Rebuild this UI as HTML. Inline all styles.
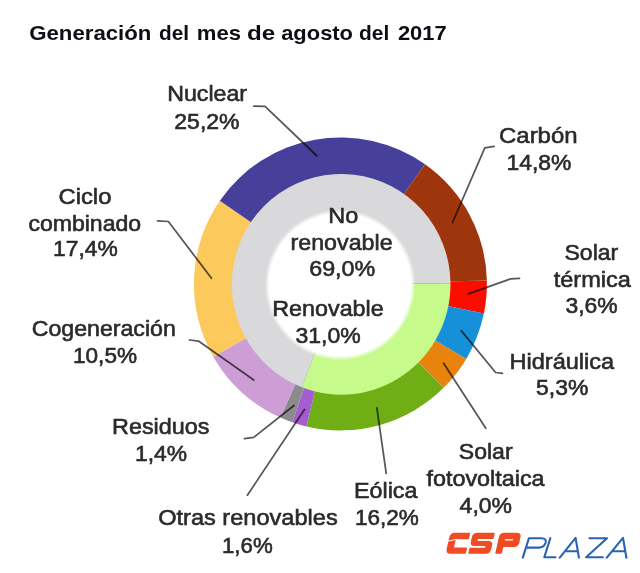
<!DOCTYPE html>
<html><head><meta charset="utf-8"><title>Generación del mes de agosto del 2017</title>
<style>
html,body{margin:0;padding:0;background:#fff;}
body{width:640px;height:573px;overflow:hidden;font-family:"Liberation Sans",sans-serif;}
svg{display:block}
text{font-family:"Liberation Sans",sans-serif;fill:#2a2a2a;stroke:#2a2a2a;stroke-width:0.6px;}
</style></head><body>
<svg width="640" height="573" viewBox="0 0 640 573">
<defs>
<radialGradient id="hole"><stop offset="0" stop-color="#fff"/><stop offset="0.94" stop-color="#fff"/><stop offset="1" stop-color="#fff" stop-opacity="0"/></radialGradient>
<filter id="b1" x="-5%" y="-5%" width="110%" height="110%"><feGaussianBlur stdDeviation="0.7"/></filter>
<filter id="b2" x="-5%" y="-5%" width="110%" height="110%"><feGaussianBlur stdDeviation="0.65"/></filter>
<filter id="b3" x="-5%" y="-5%" width="110%" height="110%"><feGaussianBlur stdDeviation="0.7"/></filter>
</defs>
<rect width="640" height="573" fill="#fff"/>
<g id="donut" filter="url(#b1)">
<path d="M340.4,283.9 L486.86,280.58 A146.5,146.5 0 0 1 483.86,313.61 Z" fill="#fb0a02"/>
<path d="M340.4,283.9 L483.86,313.61 A146.5,146.5 0 0 1 466.24,358.91 Z" fill="#1390d8"/>
<path d="M340.4,283.9 L466.24,358.91 A146.5,146.5 0 0 1 443.63,387.85 Z" fill="#e8830f"/>
<path d="M340.4,283.9 L443.63,387.85 A146.5,146.5 0 0 1 306.45,426.41 Z" fill="#6fae14"/>
<path d="M340.4,283.9 L306.45,426.41 A146.5,146.5 0 0 1 292.22,422.25 Z" fill="#a45dd0"/>
<path d="M340.4,283.9 L292.22,422.25 A146.5,146.5 0 0 1 280.35,417.53 Z" fill="#8b8b8b"/>
<path d="M340.4,283.9 L280.35,417.53 A146.5,146.5 0 0 1 213.27,356.71 Z" fill="#cd9ed5"/>
<path d="M340.4,283.9 L213.27,356.71 A146.5,146.5 0 0 1 219.81,200.71 Z" fill="#fbc95b"/>
<path d="M340.4,283.9 L219.81,200.71 A146.5,146.5 0 0 1 425.06,164.34 Z" fill="#47409a"/>
<path d="M340.4,283.9 L425.06,164.34 A146.5,146.5 0 0 1 486.86,280.58 Z" fill="#9e3608"/>
<path d="M341.2,284.3 L450.50,283.34 A109.3,110.4 0 0 1 301.85,387.30 Z" fill="#c6fb8c"/>
<path d="M341.2,284.3 L301.85,387.30 A109.3,110.4 0 1 1 450.50,283.34 Z" fill="#d9d9db"/>
<ellipse cx="340.1" cy="284.8" rx="75.4" ry="75.6" fill="url(#hole)"/>
</g>
<g id="lines" filter="url(#b3)" fill="none" stroke="#000" stroke-opacity="0.66" stroke-width="1.75" stroke-linejoin="round" stroke-linecap="round">
<path d="M253.8,106.2 L265,106.4 L317,156"/>
<path d="M157.5,220.8 L168.4,221.5 L211.5,278.3"/>
<path d="M189.5,340 L198.8,341.2 L253.8,380"/>
<path d="M244.4,438.6 L253.7,437.4 L294,405.5"/>
<path d="M304.5,409.5 L247.4,495.2"/>
<path d="M376.9,407.8 L386.2,473.4"/>
<path d="M443.6,363.2 L485.8,428.2"/>
<path d="M461.2,330.6 L495.6,372.5 L502.5,373.4"/>
<path d="M468.4,293.8 L510.6,278.9 L519.6,278.3"/>
<path d="M494.1,146.4 L484.8,147.8 L452.5,222.5"/>

</g>
<g id="labels" filter="url(#b2)">
<text x="29.20" y="40.20" font-size="20.8" textLength="122.25" lengthAdjust="spacingAndGlyphs" font-weight="bold" style="fill:#0c0c14;stroke:none">Generación</text>
<text x="159.00" y="40.20" font-size="20.8" textLength="30.00" lengthAdjust="spacingAndGlyphs" font-weight="bold" style="fill:#0c0c14;stroke:none">del</text>
<text x="196.80" y="40.20" font-size="20.8" textLength="44.20" lengthAdjust="spacingAndGlyphs" font-weight="bold" style="fill:#0c0c14;stroke:none">mes</text>
<text x="247.00" y="40.20" font-size="20.8" textLength="28.20" lengthAdjust="spacingAndGlyphs" font-weight="bold" style="fill:#0c0c14;stroke:none">de</text>
<text x="281.20" y="40.20" font-size="20.8" textLength="71.80" lengthAdjust="spacingAndGlyphs" font-weight="bold" style="fill:#0c0c14;stroke:none">agosto</text>
<text x="359.00" y="40.20" font-size="20.8" textLength="30.20" lengthAdjust="spacingAndGlyphs" font-weight="bold" style="fill:#0c0c14;stroke:none">del</text>
<text x="397.95" y="40.20" font-size="20.8" textLength="48.75" lengthAdjust="spacingAndGlyphs" font-weight="bold" style="fill:#0c0c14;stroke:none">2017</text>
<text x="167.20" y="101.25" font-size="22.7" textLength="79.85" lengthAdjust="spacingAndGlyphs">Nuclear</text>
<text x="174.30" y="128.75" font-size="22.7" textLength="65.25" lengthAdjust="spacingAndGlyphs">25,2%</text>
<text x="58.50" y="204.40" font-size="22.7" textLength="52.90" lengthAdjust="spacingAndGlyphs">Ciclo</text>
<text x="28.40" y="230.90" font-size="22.7" textLength="112.70" lengthAdjust="spacingAndGlyphs">combinado</text>
<text x="53.00" y="255.90" font-size="22.7" textLength="64.70" lengthAdjust="spacingAndGlyphs">17,4%</text>
<text x="31.80" y="336.25" font-size="22.7" textLength="144.00" lengthAdjust="spacingAndGlyphs">Cogeneración</text>
<text x="73.00" y="363.00" font-size="22.7" textLength="64.05" lengthAdjust="spacingAndGlyphs">10,5%</text>
<text x="112.00" y="433.75" font-size="22.7" textLength="97.55" lengthAdjust="spacingAndGlyphs">Residuos</text>
<text x="135.00" y="461.25" font-size="22.7" textLength="52.05" lengthAdjust="spacingAndGlyphs">1,4%</text>
<text x="158.20" y="525.30" font-size="22.7" textLength="179.50" lengthAdjust="spacingAndGlyphs">Otras renovables</text>
<text x="222.00" y="552.80" font-size="22.7" textLength="50.70" lengthAdjust="spacingAndGlyphs">1,6%</text>
<text x="354.00" y="498.40" font-size="22.7" textLength="63.40" lengthAdjust="spacingAndGlyphs">Eólica</text>
<text x="355.00" y="525.00" font-size="22.7" textLength="63.90" lengthAdjust="spacingAndGlyphs">16,2%</text>
<text x="458.80" y="459.40" font-size="22.7" textLength="53.80" lengthAdjust="spacingAndGlyphs">Solar</text>
<text x="426.50" y="486.00" font-size="22.7" textLength="118.10" lengthAdjust="spacingAndGlyphs">fotovoltaica</text>
<text x="459.60" y="512.50" font-size="22.7" textLength="52.40" lengthAdjust="spacingAndGlyphs">4,0%</text>
<text x="509.50" y="368.75" font-size="22.7" textLength="104.70" lengthAdjust="spacingAndGlyphs">Hidráulica</text>
<text x="536.00" y="395.30" font-size="22.7" textLength="52.30" lengthAdjust="spacingAndGlyphs">5,3%</text>
<text x="564.50" y="260.00" font-size="22.7" textLength="53.80" lengthAdjust="spacingAndGlyphs">Solar</text>
<text x="553.70" y="287.30" font-size="22.7" textLength="77.20" lengthAdjust="spacingAndGlyphs">térmica</text>
<text x="565.50" y="312.60" font-size="22.7" textLength="52.20" lengthAdjust="spacingAndGlyphs">3,6%</text>
<text x="499.00" y="143.00" font-size="22.7" textLength="78.60" lengthAdjust="spacingAndGlyphs">Carbón</text>
<text x="506.50" y="169.70" font-size="22.7" textLength="64.90" lengthAdjust="spacingAndGlyphs">14,8%</text>
<text x="328.30" y="222.90" font-size="22.7" textLength="30.00" lengthAdjust="spacingAndGlyphs">No</text>
<text x="290.50" y="250.00" font-size="22.7" textLength="102.10" lengthAdjust="spacingAndGlyphs">renovable</text>
<text x="309.20" y="276.40" font-size="22.7" textLength="66.10" lengthAdjust="spacingAndGlyphs">69,0%</text>
<text x="272.30" y="316.00" font-size="22.7" textLength="111.40" lengthAdjust="spacingAndGlyphs">Renovable</text>
<text x="295.50" y="342.50" font-size="22.7" textLength="65.30" lengthAdjust="spacingAndGlyphs">31,0%</text>
</g>
<g id="logo" filter="url(#b2)">
<g transform="translate(445.6,553.8) skewX(-12.4)" fill="#f04b22">
<path d="M19,-21.1 L4.8,-21.1 Q0,-21.1 0,-16.3 L0,-4.8 Q0,0 4.8,0 L19.2,0 Q20.2,0 20.2,-1 L20.2,-5.3 Q20.2,-6.3 19.2,-6.3 L7,-6.3 L7,-14.6 L19,-14.6 Q20,-14.6 20,-15.6 L20,-20.1 Q20,-21.1 19,-21.1 Z"/>
<path d="M-1,-12.6 L8,-14.6" stroke="#fff" stroke-width="1.1" fill="none"/>
<g transform="translate(22.6,0)">
<path d="M21,-21.1 L4.5,-21.1 Q0,-21.1 0,-16.6 L0,-12.2 Q0,-7.7 4.5,-7.7 L15.5,-7.7 L15.5,-6 L1,-6 Q0,-6 0,-5 L0,-1 Q0,0 1,0 L17.5,0 Q22,0 22,-4.5 L22,-8.4 Q22,-12.9 17.5,-12.9 L6.5,-12.9 L6.5,-14.8 L21,-14.8 Q22,-14.8 22,-15.8 L22,-20.1 Q22,-21.1 21,-21.1 Z"/>
</g>
<g transform="translate(49.6,0)">
<path d="M1,0 Q0,0 0,-1 L0,-16.6 Q0,-21.1 4.5,-21.1 L17,-21.1 Q21.6,-21.1 21.6,-16.6 L21.6,-11.4 Q21.6,-6.9 17,-6.9 L6.6,-6.9 L6.6,-1 Q6.6,0 5.6,0 Z"/>
<path d="M6.6,-14 L14.6,-14" stroke="#fff" stroke-width="1.2" fill="none"/>
</g>
</g>
<g fill="none" stroke="#2a63b3" stroke-width="2.1" stroke-linecap="round" stroke-linejoin="round">
<path d="M522.8,557.6 L528.9,538.2 L541.5,538.2 Q546.8,538.2 545.6,542.8 Q544.2,547.6 538.6,547.6 L526,547.6"/>
<path d="M550.3,538.2 L544.3,557.3 L555.5,557.3"/>
<path d="M559.8,557.7 L575.6,537.9 L578.9,557.7 M565.2,551.2 L577.8,551.2"/>
<path d="M589.4,538.2 L607,538.2 L586.1,557.3 L602.8,557.3"/>
<path d="M606.8,557.7 L623,537.9 L626.4,557.7 M612.4,551.2 L625.3,551.2"/>
</g>
</g>

</svg>
</body></html>
